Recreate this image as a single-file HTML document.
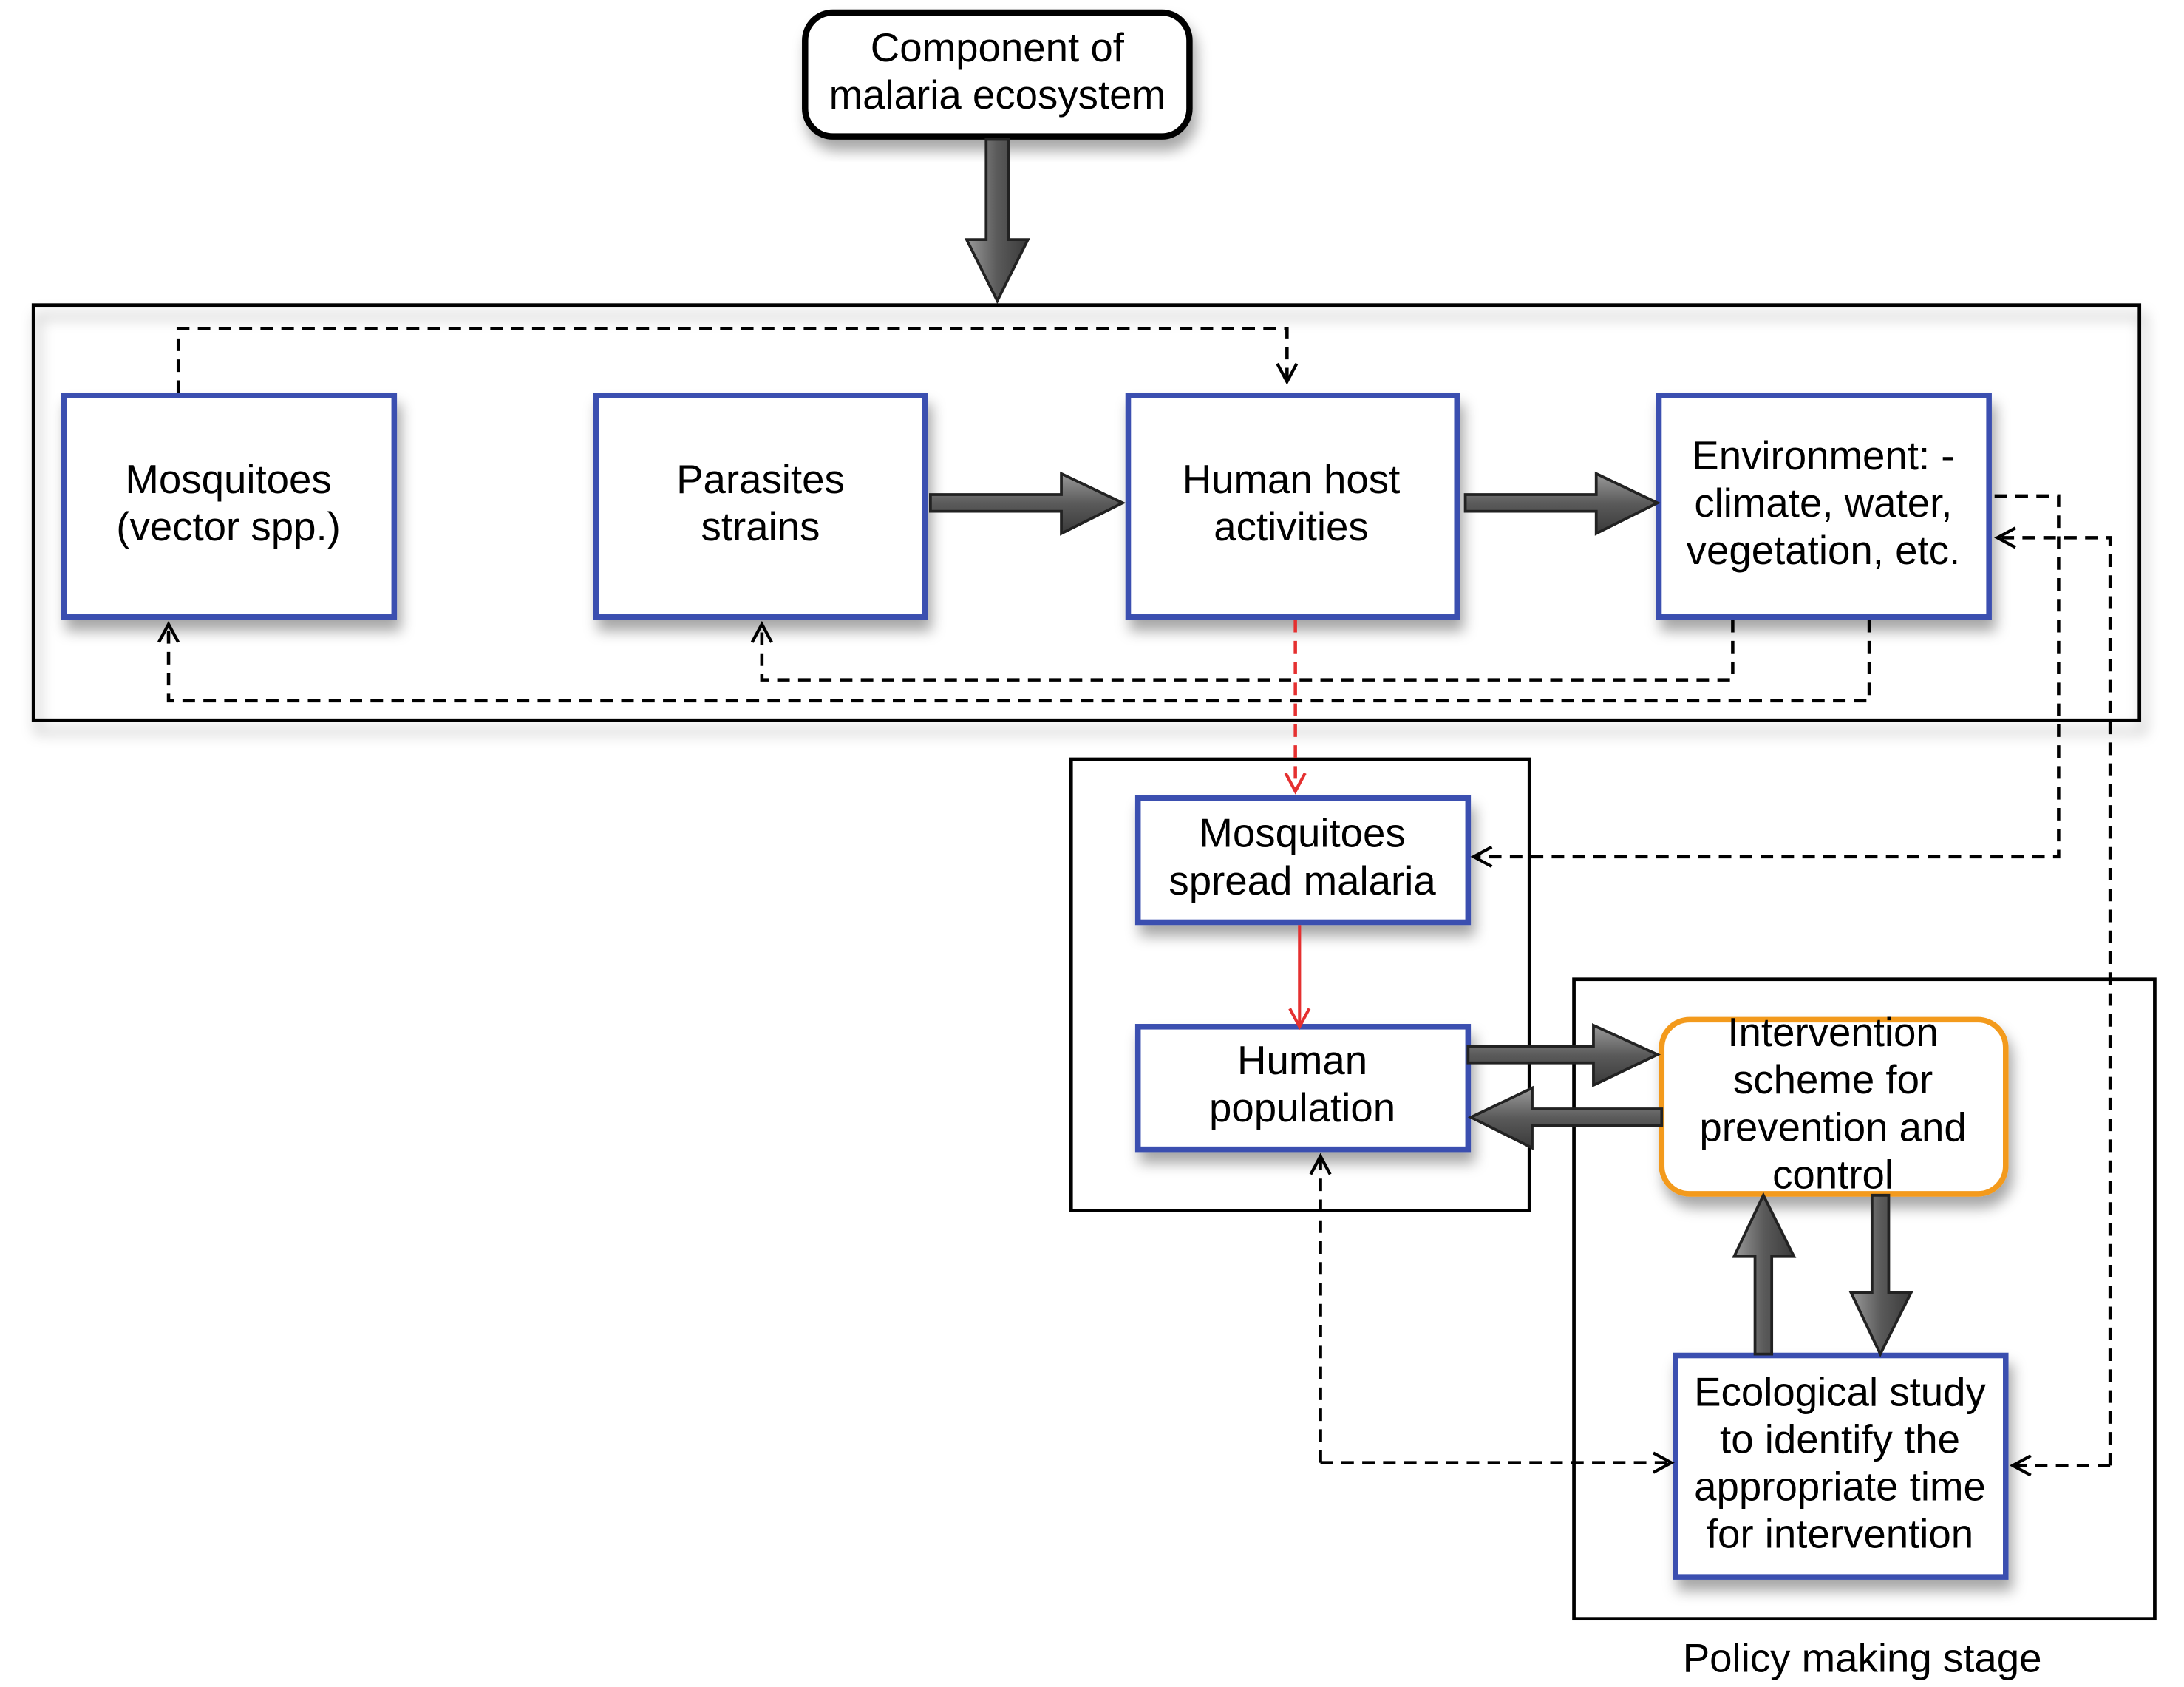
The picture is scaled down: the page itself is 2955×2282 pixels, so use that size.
<!DOCTYPE html>
<html><head><meta charset="utf-8"><style>
html,body{margin:0;padding:0;background:#fff;}
svg{display:block;}
text{font-family:"Liberation Sans",sans-serif;font-size:29px;fill:#000;text-anchor:middle;}
</style></head><body>
<svg width="2955" height="2282" viewBox="0 0 1568 1211" preserveAspectRatio="none" xmlns="http://www.w3.org/2000/svg">
<defs>
<linearGradient id="g" x1="0" y1="0" x2="0" y2="1"><stop offset="0" stop-color="#9a9a9a"/><stop offset="0.5" stop-color="#5a5a5a"/><stop offset="1" stop-color="#3a3a3a"/></linearGradient>
<linearGradient id="gv" x1="0" y1="0" x2="1" y2="0"><stop offset="0" stop-color="#9a9a9a"/><stop offset="0.5" stop-color="#5a5a5a"/><stop offset="1" stop-color="#3a3a3a"/></linearGradient>
<filter id="sh" x="-10%" y="-10%" width="130%" height="130%"><feDropShadow dx="3" dy="8" stdDeviation="5" flood-color="#000" flood-opacity="0.35"/></filter>
<marker id="oa" markerWidth="18" markerHeight="18" refX="14" refY="9" orient="auto" markerUnits="userSpaceOnUse"><path d="M1,2 L14,9 L1,16" fill="none" stroke="#000" stroke-width="2.2"/></marker>
<marker id="ra" markerWidth="18" markerHeight="18" refX="14" refY="9" orient="auto" markerUnits="userSpaceOnUse"><path d="M1,2 L14,9 L1,16" fill="none" stroke="#e53030" stroke-width="2.2"/></marker>
</defs>

<rect x="24" y="219" width="1512" height="298" fill="none" stroke="#000" stroke-width="2.5" filter="url(#sh)"/>
<rect x="769" y="545" width="329" height="324" fill="none" stroke="#000" stroke-width="2.5"/>
<rect x="1130" y="703" width="417" height="459" fill="none" stroke="#000" stroke-width="2.5"/>
<text x="1337" y="1200">Policy making stage</text>

<rect x="578" y="9" width="276" height="89" rx="20" fill="#fff" stroke="#000" stroke-width="4.5" filter="url(#sh)"/>
<text x="716" y="44">Component of</text>
<text x="716" y="78">malaria ecosystem</text>
<path d="M708,100 L724,100 L724,172 L738,172 L716,216 L694,172 L708,172 Z" fill="url(#gv)" stroke="#222" stroke-width="2"/>

<g fill="#fff" stroke="#3a4fb0" stroke-width="4" filter="url(#sh)">
<rect x="46" y="284" width="237" height="159"/>
<rect x="428" y="284" width="236" height="159"/>
<rect x="810" y="284" width="236" height="159"/>
<rect x="1191" y="284" width="237" height="159"/>
<rect x="817" y="573" width="237" height="89"/>
<rect x="817" y="737" width="237" height="88"/>
<rect x="1203" y="973" width="237" height="159"/>
</g>
<rect x="1193" y="732" width="247" height="125" rx="20" fill="#fff" stroke="#f39a1e" stroke-width="4" filter="url(#sh)"/>

<text x="164" y="354">Mosquitoes</text><text x="164" y="388">(vector spp.)</text>
<text x="546" y="354">Parasites</text><text x="546" y="388">strains</text>
<text x="927" y="354">Human host</text><text x="927" y="388">activities</text>
<text x="1309" y="337">Environment: -</text><text x="1309" y="371">climate, water,</text><text x="1309" y="405">vegetation, etc.</text>
<text x="935" y="608">Mosquitoes</text><text x="935" y="642">spread malaria</text>
<text x="935" y="771">Human</text><text x="935" y="805">population</text>
<text x="1316" y="751">Intervention</text><text x="1316" y="785">scheme for</text><text x="1316" y="819">prevention and</text><text x="1316" y="853">control</text>
<text x="1321" y="1009">Ecological study</text><text x="1321" y="1043">to identify the</text><text x="1321" y="1077">appropriate time</text><text x="1321" y="1111">for intervention</text>

<g stroke="#222" stroke-width="2">
<path d="M668,355 L762,355 L762,340 L806,361 L762,383 L762,367 L668,367 Z" fill="url(#g)"/>
<path d="M1052,355 L1146,355 L1146,340 L1190,361 L1146,383 L1146,367 L1052,367 Z" fill="url(#g)"/>
<path d="M1054,751 L1144,751 L1144,736 L1190,757 L1144,779 L1144,763 L1054,763 Z" fill="url(#g)"/>
<path d="M1193,796 L1100,796 L1100,781 L1056,802 L1100,824 L1100,808 L1193,808 Z" fill="url(#g)"/>
<path d="M1260,972 L1260,902 L1245,902 L1266,858 L1288,902 L1272,902 L1272,972 Z" fill="url(#gv)"/>
<path d="M1344,858 L1344,928 L1329,928 L1350,972 L1372,928 L1356,928 L1356,858 Z" fill="url(#gv)"/>
</g>

<g fill="none" stroke="#000" stroke-width="2.4" stroke-dasharray="9,6">
<path d="M128,282 L128,236 L924,236 L924,274" marker-end="url(#oa)"/>
<path d="M1244,445 L1244,488 L547,488 L547,448" marker-end="url(#oa)"/>
<path d="M1342,445 L1342,503 L121,503 L121,448" marker-end="url(#oa)"/>
<path d="M1432,356 L1478,356 L1478,615 L1058,615" marker-end="url(#oa)"/>
<path d="M1515,1052 L1515,386 L1434,386" marker-end="url(#oa)"/>
<path d="M1515,1052 L1445,1052" marker-end="url(#oa)"/>
<path d="M948,1050 L948,830" marker-end="url(#oa)"/>
<path d="M948,1050 L1200,1050" marker-end="url(#oa)"/>
<path d="M930,445 L930,568" stroke="#e53030" marker-end="url(#ra)"/>
</g>
<path d="M933,664 L933,737" stroke="#e53030" stroke-width="2.2" fill="none" marker-end="url(#ra)"/>
</svg>
</body></html>
